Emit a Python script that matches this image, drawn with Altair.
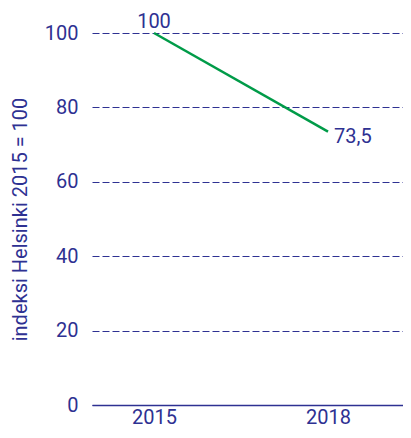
import altair as alt
import pandas as pd

years = [2015, 2018]
values = [100, 73.5]
labels = ["100", "73,5"]

df = pd.DataFrame({"year": years, "value": values, "label": labels})

blue = "#2e3192"
green = "#009b48"
font = "Roboto"

x = alt.X("year:Q",
          scale=alt.Scale(domain=[2013.931, 2019.293], nice=False, zero=False),
          axis=alt.Axis(values=years, format="d", title=None, grid=False, ticks=False,
                        domain=True, domainColor=blue, domainWidth=1.5,
                        labelFont=font, labelFontSize=20, labelColor=blue, labelPadding=2))
y = alt.Y("value:Q",
          scale=alt.Scale(domain=[0, 100], nice=False),
          axis=alt.Axis(values=[0, 20, 40, 60, 80, 100], title="indeksi Helsinki 2015 = 100",
                        grid=True, gridDash=[7, 3], gridColor=blue, gridWidth=1,
                        ticks=False, domain=False,
                        labelFont=font, labelFontSize=20, labelColor=blue, labelPadding=14,
                        titleFont=font, titleFontSize=20, titleFontWeight="normal",
                        titleColor=blue, titleX=-72, titleY=186, titleAngle=-90,
                        titleBaseline="middle", titleAlign="center"))

line = alt.Chart(df).mark_line(color=green, strokeWidth=2.5).encode(x=x, y=y)

lab1 = alt.Chart(df[df.year == 2015]).mark_text(
    font=font, fontSize=20, color=blue, baseline="alphabetic", dy=-5
).encode(x="year:Q", y="value:Q", text="label:N")
lab2 = alt.Chart(df[df.year == 2018]).mark_text(
    font=font, fontSize=20, color=blue, align="left", baseline="middle", dx=6, dy=5
).encode(x="year:Q", y="value:Q", text="label:N")

chart = (line + lab1 + lab2).properties(
    width=311, height=372,
    autosize=alt.AutoSizeParams(type="none"),
    padding={"left": 84, "top": 25, "right": 0, "bottom": 25},
).configure_view(stroke=None)

chart.save("out.html", embed_options={"renderer": "svg", "actions": False})
